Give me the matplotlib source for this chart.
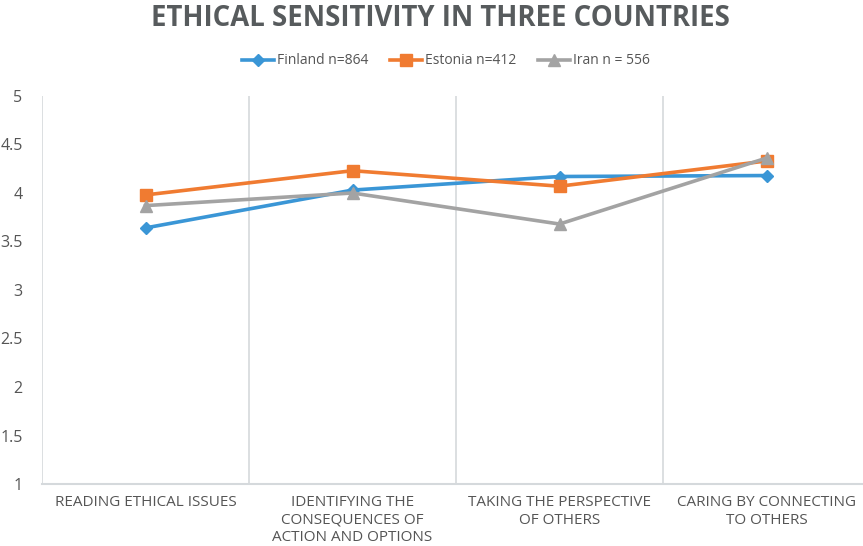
import matplotlib.pyplot as plt

plt.rcParams['font.family'] = ['Open Sans', 'DejaVu Sans']

categories = ['READING ETHICAL ISSUES',
              'IDENTIFYING THE\nCONSEQUENCES OF\nACTION AND OPTIONS',
              'TAKING THE PERSPECTIVE\nOF OTHERS',
              'CARING BY CONNECTING\nTO OTHERS']
finland = [3.64, 4.03, 4.17, 4.18]
estonia = [3.98, 4.23, 4.07, 4.33]
iran = [3.87, 4.00, 3.68, 4.36]
yticks = [1, 1.5, 2, 2.5, 3, 3.5, 4, 4.5, 5]
ytick_labels = ['1', '1.5', '2', '2.5', '3', '3.5', '4', '4.5', '5']

W, H = 863, 546
fig = plt.figure(figsize=(W / 100, H / 100), dpi=100)
ax = fig.add_axes([42 / W, 62 / H, 828 / W, 388 / H])

x = range(len(categories))
ax.plot(x, finland, color='#3a96d6', lw=2.6, marker='D', ms=6.5, label='Finland n=864', zorder=3)
ax.plot(x, estonia, color='#f07b31', lw=2.6, marker='s', ms=8, label='Estonia n=412', zorder=3)
ax.plot(x, iran, color='#a3a3a3', lw=2.6, marker='^', ms=8.5, label='Iran n = 556', zorder=3)

ax.set_xlim(-0.5, 3.5)
ax.set_ylim(1, 5)
ax.set_yticks(yticks)
ax.set_yticklabels(ytick_labels)
ax.set_xticks(list(x))
ax.set_xticklabels(categories, fontsize=11, color='#444444', linespacing=1.22)
ax.tick_params(axis='both', length=0, labelcolor='#555555')
ax.tick_params(axis='y', labelsize=11.5, pad=14)
ax.tick_params(axis='x', pad=8)

for xv in [-0.5, 0.5, 1.5, 2.5]:
    ax.axvline(xv, color='#d5d9dc', lw=1.2, zorder=1)
for s in ['top', 'right', 'left']:
    ax.spines[s].set_visible(False)
ax.spines['bottom'].set_color('#d5d9dc')
ax.spines['bottom'].set_linewidth(1.5)

fig.text(440 / W, 1 - 18 / H, 'ETHICAL SENSITIVITY IN THREE COUNTRIES', ha='center', va='center',
         fontsize=19.8, fontweight='bold', color='#575b5d')
fig.legend(loc='center', bbox_to_anchor=(446 / W, 1 - 61 / H), ncol=3, frameon=False,
           fontsize=10, handlelength=2.3, columnspacing=1.6, handletextpad=0.2,
           labelcolor='#555555')

fig.savefig('out.png', dpi=100)
